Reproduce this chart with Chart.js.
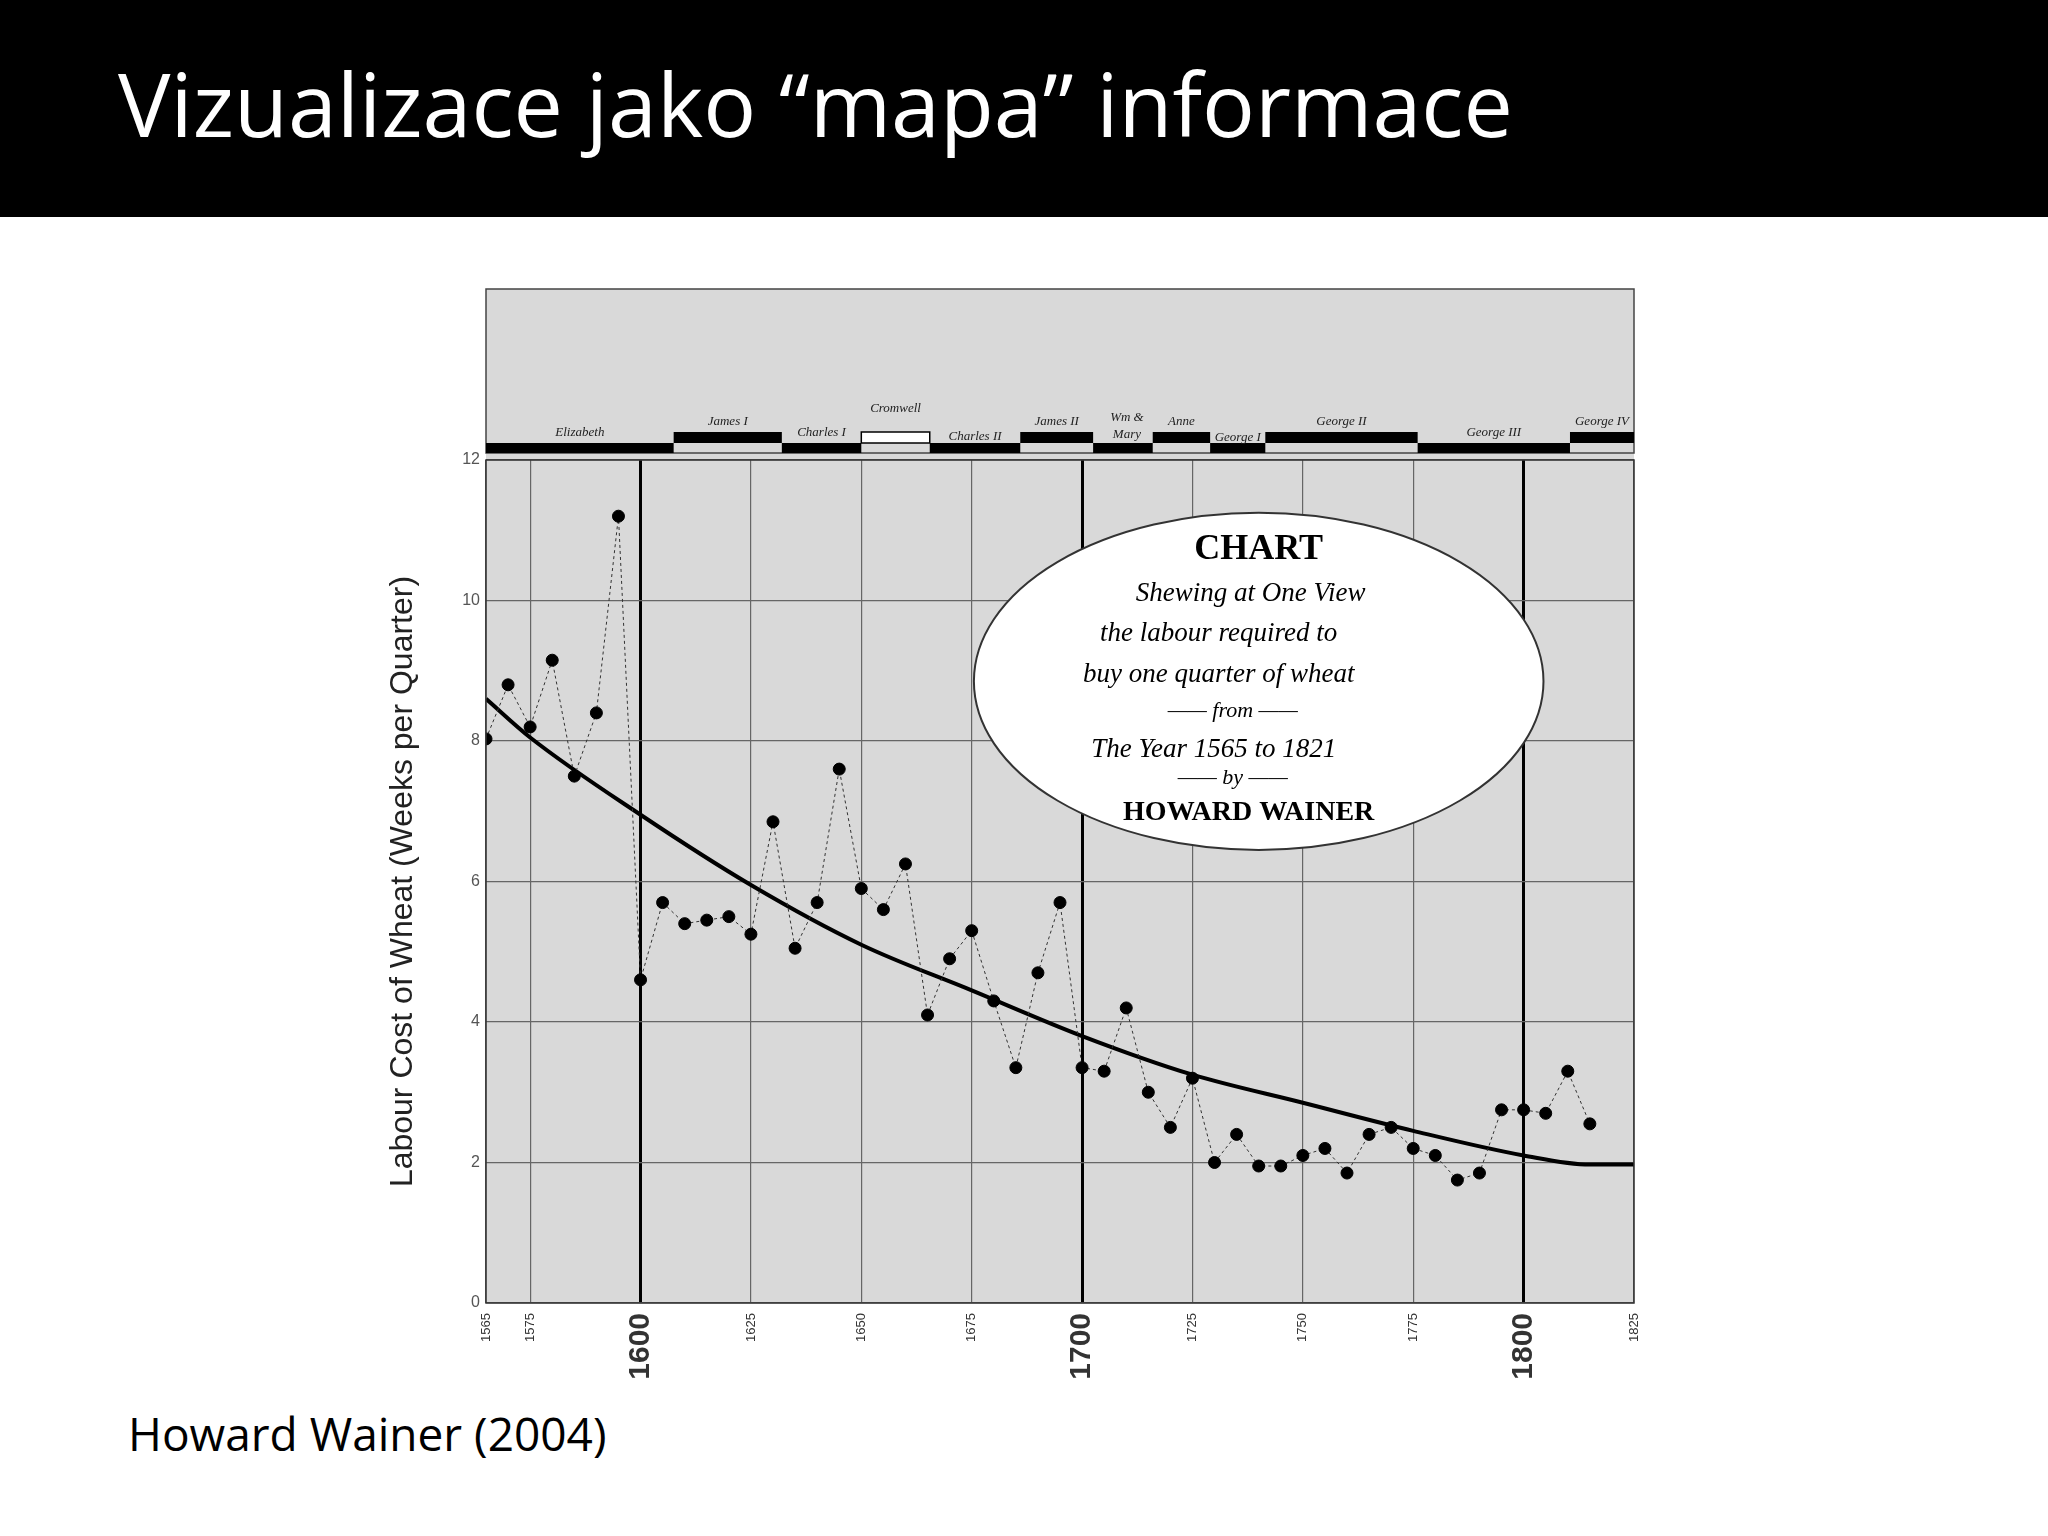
<!DOCTYPE html>
<html><head><meta charset="utf-8">
<script src="https://cdn.jsdelivr.net/npm/chart.js@4.4.1/dist/chart.umd.min.js"></script>
<style>
html,body{margin:0;padding:0;background:#fff;width:2048px;height:1536px;overflow:hidden}
#hdr{position:absolute;left:0;top:0;width:2048px;height:217px;background:#000}
#title{position:absolute;left:118px;top:48px;color:#fff;font-family:"Open Sans",sans-serif;font-size:88px;line-height:110px}
#foot{position:absolute;left:128px;top:1402px;font-family:"Open Sans",sans-serif;font-size:46px;color:#000}
canvas{position:absolute;left:0;top:0}
</style></head><body>
<div id="hdr"></div>
<div id="title">Vizualizace jako “mapa” informace</div>
<div id="foot">Howard Wainer (2004)</div>
<canvas id="c" width="2048" height="1536"></canvas>
<script>
const years = [1565,1570,1575,1580,1585,1590,1595,1600,1605,1610,1615,1620,1625,1630,1635,1640,1645,1650,1655,1660,1665,1670,1675,1680,1685,1690,1695,1700,1705,1710,1715,1720,1725,1730,1735,1740,1745,1750,1755,1760,1765,1770,1775,1780,1785,1790,1795,1800,1805,1810,1815];
const labourCost = [8.03,8.8,8.2,9.15,7.5,8.4,11.2,4.6,5.7,5.4,5.45,5.5,5.25,6.85,5.05,5.7,7.6,5.9,5.6,6.25,4.1,4.9,5.3,4.3,3.35,4.7,5.7,3.35,3.3,4.2,3.0,2.5,3.2,2.0,2.4,1.95,1.95,2.1,2.2,1.85,2.4,2.5,2.2,2.1,1.75,1.85,2.75,2.75,2.7,3.3,2.55];
const trendYears = [1565,1575,1600,1625,1650,1675,1700,1725,1750,1775,1800,1815,1825];
const trendValues = [8.6,8.05,6.95,5.95,5.1,4.45,3.8,3.25,2.85,2.45,2.1,1.97,1.97];
const xTicks = [1565,1575,1600,1625,1650,1675,1700,1725,1750,1775,1800,1825];
const centuries = [1600,1700,1800];
const reignNames = ["Elizabeth","James I","Charles I","Cromwell","Charles II","James II","Wm & Mary","Anne","George I","George II","George III","George IV"];
const reignStart = [1565,1607.5,1632,1650,1665.5,1686,1702.5,1716,1729,1741.5,1776,1810.5];
const reignEnd   = [1607.5,1632,1650,1665.5,1686,1702.5,1716,1729,1741.5,1776,1810.5,1825];
const reignHigh  = [0,1,0,1,0,1,0,1,0,1,0,1];

const serif = '"Liberation Serif","DejaVu Serif",serif';
const plugin = {
  id:'deco',
  beforeDraw(ch){
    const c=ch.ctx, a=ch.chartArea;
    c.save();
    c.fillStyle='#d9d9d9';
    c.fillRect(a.left,289,a.right-a.left,a.bottom-289);
    c.strokeStyle='#444';c.lineWidth=1.5;
    c.strokeRect(a.left,289,a.right-a.left,453-289);
    c.restore();
  },
  afterDatasetsDraw(ch){
    const c=ch.ctx,a=ch.chartArea,x=ch.scales.x,y=ch.scales.y;
    c.save();
    c.strokeStyle='#333';c.lineWidth=1.5;c.strokeRect(a.left,a.top,a.right-a.left,a.bottom-a.top);
    for(let i=0;i<reignNames.length;i++){
      const x0=x.getPixelForValue(reignStart[i]), x1=x.getPixelForValue(reignEnd[i]);
      const top=reignHigh[i]?432:443, bot=reignHigh[i]?443:453;
      c.fillStyle = reignNames[i]==='Cromwell' ? '#fff':'#000';
      c.fillRect(x0,top,x1-x0,bot-top);
      if(reignNames[i]==='Cromwell'){c.strokeStyle='#000';c.lineWidth=1.5;c.strokeRect(x0,top,x1-x0,bot-top);}
      c.fillStyle='#222';c.font='italic 13px '+serif;c.textAlign='center';c.textBaseline='alphabetic';
      let lx=(x0+x1)/2, ly=top-7;
      if(reignNames[i]==='Cromwell') ly=top-20;
      if(reignNames[i]==='Charles II') ly=top-3;
      if(reignNames[i]==='Wm & Mary'){c.fillText('Wm &',lx+4,top-22);c.fillText('Mary',lx+4,top-5);continue;}
      if(reignNames[i]==='George I') ly=top-2;
      c.fillText(reignNames[i],lx,ly);
    }
    const cx=x.getPixelForValue(1740), cy=y.getPixelForValue(8.85);
    const rx=x.getPixelForValue(1740+64.5)-cx, ry=y.getPixelForValue(8.85-2.4)-cy;
    c.beginPath();c.ellipse(cx,cy,rx,ry,0,0,Math.PI*2);c.fillStyle='#fff';c.fill();c.strokeStyle='#333';c.lineWidth=2;c.stroke();
    c.fillStyle='#000';c.textAlign='center';
    c.font='bold 36px '+serif;c.fillText('CHART',cx,cy-122);
    c.font='italic 27px '+serif;
    c.fillText('Shewing at One View',cx-8,cy-80);
    c.fillText('the labour required to',cx-40,cy-40);
    c.fillText('buy one quarter of wheat',cx-40,cy+1);
    c.font='italic 22px '+serif;c.fillText('—— from ——',cx-26,cy+36);
    c.font='italic 27px '+serif;c.fillText('The Year 1565 to 1821',cx-45,cy+76);
    c.font='italic 22px '+serif;c.fillText('—— by ——',cx-26,cy+103);
    c.font='bold 28px '+serif;c.fillText('HOWARD WAINER',cx-10,cy+139);
    c.restore();
  }
};
new Chart(document.getElementById('c'),{
  data:{datasets:[
    {type:'line',data:trendYears.map((v,i)=>({x:v,y:trendValues[i]})),borderColor:'#000',borderWidth:4,pointRadius:0,cubicInterpolationMode:'monotone',order:2},
    {type:'scatter',data:years.map((v,i)=>({x:v,y:labourCost[i]})),showLine:true,borderColor:'#333',borderWidth:1,borderDash:[3,3],pointRadius:6,pointBackgroundColor:'#000',pointBorderColor:'#000',order:1}
  ]},
  options:{responsive:false,animation:false,
    layout:{padding:{left:380,right:414,top:460,bottom:133}},
    plugins:{legend:{display:false},tooltip:{enabled:false}},
    scales:{
      x:{type:'linear',min:1565,max:1825,
        afterBuildTicks(s){s.ticks=xTicks.map(v=>({value:v}));},
        afterFit(s){s.height=100;},
        grid:{color:c=>centuries.includes(c.tick&&c.tick.value)?'#000':'#666',lineWidth:c=>centuries.includes(c.tick&&c.tick.value)?3:1.2,drawTicks:false},
        border:{display:false},
        ticks:{autoSkip:false,maxRotation:90,minRotation:90,padding:10,color:'#333',
          callback:v=>String(v),
          font:c=>centuries.includes(c.tick&&c.tick.value)?{size:30,weight:'bold',family:'Arial, "Liberation Sans"'}:{size:13,family:'Arial, "Liberation Sans"'}}},
      y:{min:0,max:12,
        afterFit(s){s.width=106;},
        ticks:{stepSize:2,color:'#555',font:{size:16,family:'"Liberation Sans",Arial'},padding:6},
        grid:{color:'#666',lineWidth:1.2,drawTicks:false},border:{display:false},
        title:{display:true,text:'Labour Cost of Wheat (Weeks per Quarter)',color:'#222',font:{size:32,family:'"Liberation Sans",Arial'},padding:{bottom:10}}}
    }
  },
  plugins:[plugin]
});
</script></body></html>
